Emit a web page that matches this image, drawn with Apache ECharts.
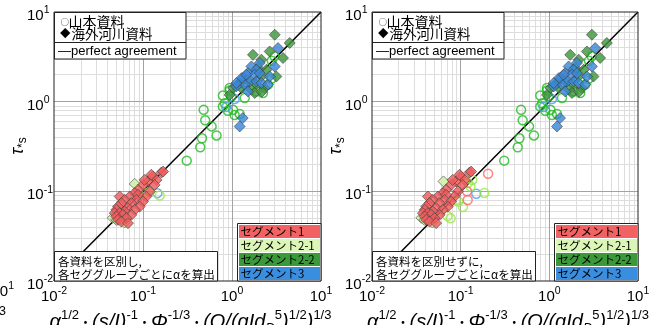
<!DOCTYPE html>
<html>
<head>
<meta charset="utf-8">
<script src="https://cdn.jsdelivr.net/npm/echarts@6/dist/echarts.min.js"></script>
<style>
html,body{margin:0;padding:0;background:#fff}
#chart{width:659px;height:325px}
</style>
</head>
<body>
<div id="chart"></div>
<script>
// Log–log comparison of τ*s against the composite parameter, two panels
const AXIS_MIN = 0.01;
const AXIS_MAX = 10;
const majorLines = [0.1, 1];
const minorLines = [0.02,0.03,0.04,0.05,0.06,0.07,0.08,0.09,
                    0.2,0.3,0.4,0.5,0.6,0.7,0.8,0.9,
                    2,3,4,5,6,7,8,9];
const agreementLine = [[0.01, 0.01], [10, 10]];

// 海外河川資料 (diamonds)
const overseasSeg1Left = [[0.161,0.162],[0.129,0.146],[0.142,0.134],[0.114,0.129],[0.100,0.118],[0.135,0.118],
  [0.0879,0.104],[0.119,0.0995],[0.0807,0.0955],[0.0547,0.0875],[0.109,0.0875],[0.0710,0.0875],[0.0879,0.0914],
  [0.0622,0.0804],[0.0843,0.0804],[0.100,0.0769],[0.0571,0.0738],[0.0741,0.0738],[0.0918,0.0676],[0.0524,0.0676],
  [0.0678,0.0649],[0.0807,0.0622],[0.0502,0.0622],[0.0622,0.0596],[0.0741,0.0547],[0.0481,0.0571],[0.0547,0.0571],
  [0.0596,0.0547],[0.0650,0.0502],[0.0502,0.0524],[0.0524,0.0481],[0.0571,0.0460],[0.0678,0.0442],[0.168,0.166],
  [0.124,0.153],[0.104,0.134]];
const overseasSeg1Right = [[0.126,0.162],[0.101,0.146],[0.111,0.134],[0.089,0.129],[0.078,0.118],[0.105,0.118],
  [0.0686,0.104],[0.093,0.0995],[0.063,0.0955],[0.0427,0.0875],[0.085,0.0875],[0.0554,0.0875],[0.0686,0.0914],
  [0.0485,0.0804],[0.0658,0.0804],[0.078,0.0769],[0.0445,0.0738],[0.0578,0.0738],[0.0716,0.0676],[0.0409,0.0676],
  [0.0529,0.0649],[0.063,0.0622],[0.0392,0.0622],[0.0485,0.0596],[0.0578,0.0547],[0.0375,0.0571],[0.0427,0.0571],
  [0.0465,0.0547],[0.0507,0.0502],[0.0392,0.0524],[0.0409,0.0481],[0.0445,0.0460],[0.0529,0.0442],[0.131,0.166],
  [0.097,0.153],[0.081,0.134]];
const overseasSeg21Left = [[0.0807,0.121],[0.0457,0.0506],[0.0502,0.0481],[0.062,0.045]];
const overseasSeg21Right = [[0.064,0.129],[0.036,0.0506],[0.039,0.0481],[0.048,0.045]];
const overseasSeg22 = [[3.02,5.58],[4.45,4.51],[2.65,3.63],[1.72,3.33],[3.74,3.07],[2.14,2.94],[2.44,2.27],
  [2.14,1.91],[1.22,1.61],[1.88,1.55],[1.03,1.42],[1.17,1.55],[1.28,1.42],[1.65,1.36],[2.33,1.42],[3.15,1.91],
  [1.80,1.25],[0.94,1.19],[1.46,1.75],[1.95,2.39],[2.16,1.29]];
const overseasSeg3 = [[3.29,3.96],[3.02,2.47],[2.05,2.70],[1.65,2.47],[1.88,2.27],[1.51,2.08],[1.80,2.00],
  [1.33,1.83],[1.58,1.68],[1.39,1.55],[1.12,1.48],[1.28,1.83],[1.12,1.61],[1.88,1.68],[2.14,1.61],[2.54,1.55],
  [2.65,1.91],[1.51,1.30],[2.05,2.08],[1.45,2.00],[1.32,0.656],[1.22,0.529]];

// 山本資料 (circles)
const yamamotoSeg1Left = [];
const yamamotoSeg1Right = [[0.204,0.157],[0.118,0.100],[0.120,0.080]];
const yamamotoSeg21Left = [[0.109,0.0955],[0.119,0.099],[0.154,0.0898]];
const yamamotoSeg21Right = [[0.135,0.134],[0.129,0.113],[0.185,0.096],[0.088,0.080],[0.106,0.067],
  [0.071,0.053],[0.077,0.050],[0.094,0.077],[0.121,0.124]];
const yamamotoSeg22 = [[0.79,1.17],[0.94,1.33],[0.98,1.14],[1.39,1.10],[0.79,0.88],[0.90,0.79],[1.03,0.81],
  [1.07,0.71],[1.22,0.73],[0.48,0.81],[0.50,0.62],[0.59,0.53],[0.67,0.42],[0.46,0.39],[0.44,0.31],[0.31,0.22],
  [3.0,3.2],[2.8,2.86],[1.71,1.48],[2.77,1.80],[2.23,1.25],[1.88,1.30],[0.83,0.96],[2.54,1.55],[0.94,1.42]];
const yamamotoSeg3Left = [[0.86,0.87],[1.07,1.07],[0.145,0.0955]];
const yamamotoSeg3Right = [[0.86,0.87],[1.07,1.07],[0.150,0.094]];

const segmentNames = ['セグメント1', 'セグメント2-1', 'セグメント2-2', 'セグメント3'];
const segmentColors = ['#f26262', '#dcf6b8', '#3a9a3a', '#3a8ee0'];
const circleColors = ['#ff6868', '#9be84a', '#22bb22', '#4a9cf0'];
const diamondColors = ['#ee5c5c', '#c9f09e', '#3f963f', '#3a88d8'];

const LATIN = '"Liberation Sans", Arial, sans-serif';
const CJK = '"Noto Sans CJK JP", sans-serif';

const chart = echarts.init(document.getElementById('chart'), null, {renderer: 'canvas'});

const tickRich = {
  b: {fontSize: 15, fontFamily: LATIN, color: '#000', lineHeight: 22},
  s: {fontSize: 10.5, fontFamily: LATIN, color: '#000', verticalAlign: 'top', lineHeight: 10}
};
const tickFormatter = v => '{b|10}{s|' + Math.round(Math.log10(v)) + '}';

const grids = [
  {left: 54, top: 12, width: 267, height: 269},
  {left: 372, top: 12, width: 266, height: 269}
];

function xAxisFor(i) {
  return {
    type: 'log', logBase: 10, gridIndex: i, min: AXIS_MIN, max: AXIS_MAX,
    axisLine: {show: false}, axisTick: {show: false}, splitLine: {show: false},
    axisLabel: {formatter: tickFormatter, rich: tickRich, margin: 5, showMinLabel: true, showMaxLabel: true}
  };
}
function yAxisFor(i) {
  return {
    type: 'log', logBase: 10, gridIndex: i, min: AXIS_MIN, max: AXIS_MAX,
    axisLine: {show: false}, axisTick: {show: false}, splitLine: {show: false},
    axisLabel: {formatter: tickFormatter, rich: tickRich, margin: 27, align: 'left',
      padding: [8, 0, 0, 0], showMinLabel: true, showMaxLabel: true}
  };
}

function gridLineSeries(i) {
  const mk = (vals, color, z) => ({
    type: 'line', xAxisIndex: i, yAxisIndex: i, data: [], silent: true, z: z,
    markLine: {
      silent: true, symbol: ['none', 'none'], z: z, animation: false,
      label: {show: false}, emphasis: {disabled: true},
      lineStyle: {color: color, width: 1, type: 'solid'},
      data: vals.map(v => ({xAxis: v})).concat(vals.map(v => ({yAxis: v})))
    }
  });
  return [mk(minorLines, '#dddddd', 1), mk(majorLines, '#a3a3a3', 2)];
}

function circleSeries(i, data, seg) {
  return {
    type: 'scatter', xAxisIndex: i, yAxisIndex: i, data: data, z: 4,
    symbol: 'circle', symbolSize: 9,
    itemStyle: {color: 'rgba(255,255,255,0)', borderColor: circleColors[seg], borderWidth: 1.5}
  };
}
function diamondSeries(i, data, seg) {
  return {
    type: 'scatter', xAxisIndex: i, yAxisIndex: i, data: data, z: 5,
    symbol: 'diamond', symbolSize: 11,
    itemStyle: {color: diamondColors[seg], opacity: 0.82, borderColor: '#3a3a3a', borderWidth: 0.7}
  };
}
function agreementSeries(i) {
  return {
    type: 'line', xAxisIndex: i, yAxisIndex: i, data: agreementLine, z: 3,
    symbol: 'none', silent: true, lineStyle: {color: '#000', width: 1.5}
  };
}

const panels = [
  {c1: yamamotoSeg1Left, c21: yamamotoSeg21Left, c3: yamamotoSeg3Left, d1: overseasSeg1Left, d21: overseasSeg21Left,
   note: ['各資料を区別し,', '各セググループごとにαを算出']},
  {c1: yamamotoSeg1Right, c21: yamamotoSeg21Right, c3: yamamotoSeg3Right, d1: overseasSeg1Right, d21: overseasSeg21Right,
   note: ['各資料を区別せずに,', '各セググループごとにαを算出']}
];

const series = [];
panels.forEach((p, i) => {
  series.push(...gridLineSeries(i));
  series.push(agreementSeries(i));
  series.push(circleSeries(i, yamamotoSeg22, 2));
  series.push(circleSeries(i, p.c3, 3));
  series.push(circleSeries(i, p.c21, 1));
  series.push(circleSeries(i, p.c1, 0));
  series.push(diamondSeries(i, p.d21, 1));
  series.push(diamondSeries(i, overseasSeg22, 2));
  series.push(diamondSeries(i, overseasSeg3, 3));
  series.push(diamondSeries(i, p.d1, 0));
});

const xTitleRich = {
  m: {fontSize: 20, fontStyle: 'italic', fontFamily: LATIN, color: '#000', lineHeight: 26},
  u: {fontSize: 13, fontFamily: LATIN, color: '#000', verticalAlign: 'top', lineHeight: 14},
  d: {fontSize: 13, fontStyle: 'italic', fontFamily: LATIN, color: '#000', verticalAlign: 'bottom', lineHeight: 14},
  p: {fontSize: 13, fontFamily: CJK, color: '#000', lineHeight: 26}
};
const xTitleText = '{m|α}{u|1/2}{p|・}{m|(s/I)}{u|-1}{p|・}{m|Φ}{u|-1/3}{p|・}{m|(Q/(gId}{d|D}{u|5}{m|)}{u|1/2}{m|)}{u|1/3}';
const yTitleRich = {
  t: {fontSize: 18, fontStyle: 'italic', fontFamily: LATIN, color: '#000', lineHeight: 22},
  s: {fontSize: 12, fontFamily: LATIN, color: '#000', verticalAlign: 'bottom', lineHeight: 12}
};

function panelGraphics(i) {
  const g = grids[i];
  const ox = g.left;
  const right = g.left + g.width;
  const bottom = g.top + g.height;
  const els = [];
  const box = (x, y, w, h) => ({type: 'rect', z: 100, silent: true,
    shape: {x: x, y: y, width: w, height: h}, style: {fill: '#fff', stroke: '#222', lineWidth: 1}});
  const txt = (x, y, text, size, family) => ({type: 'text', z: 102, silent: true, x: x, y: y,
    style: {text: text, fill: '#000', font: size + 'px ' + family, verticalAlign: 'middle', align: 'left'}});

  // symbol legend
  els.push(box(ox + 0.5, g.top + 0.5, 131.5, 46.5));
  els.push({type: 'line', z: 101, silent: true, shape: {x1: ox, y1: 42.5, x2: ox + 132, y2: 42.5},
    style: {stroke: '#222', lineWidth: 1}});
  els.push(txt(ox + 6.5, 22, '○', 8.5, CJK));
  els.push(txt(ox + 14.5, 22, '山本資料', 14, CJK));
  els.push(txt(ox + 6, 33.5, '◆', 10.5, CJK));
  els.push(txt(ox + 17.5, 33.5, '海外河川資料', 13.5, CJK));
  els.push(txt(ox + 4, 51, '—perfect agreement', 13, LATIN));

  // method note
  els.push(box(ox + 0.5, 251.5, 163, 29.5));
  els.push(txt(ox + 4, 262, panels[i].note[0], 11.5, CJK));
  els.push(txt(ox + 4, 274.5, panels[i].note[1], 11.5, CJK));

  // segment legend
  const lx = right - 84;
  els.push(box(lx + 0.5, 223.5, 83.5, bottom - 223.5));
  segmentNames.forEach((name, k) => {
    const ry = 225 + k * 14;
    els.push({type: 'rect', z: 101, silent: true, shape: {x: lx + 2, y: ry, width: 81, height: 13},
      style: {fill: segmentColors[k]}});
    els.push(txt(lx + 3.5, ry + 6.5, name, 11.5, CJK));
  });

  // axis titles
  els.push({type: 'text', z: 102, silent: true, x: ox - 36, y: 146, rotation: Math.PI / 2,
    style: {text: '{t|τ}{s|*s}', rich: yTitleRich, align: 'center', verticalAlign: 'middle'}});
  els.push({type: 'text', z: 102, silent: true, x: ox + g.width / 2 + 3, y: 322,
    style: {text: xTitleText, rich: xTitleRich, align: 'center', verticalAlign: 'middle'}});
  return els;
}

const graphics = panelGraphics(0).concat(panelGraphics(1));
// neighbouring panel's tick label and axis-title tail, clipped by the left edge
graphics.push({type: 'text', z: 102, silent: true, x: -8.5, y: 292,
  style: {text: '{b|10}{s|1}', rich: tickRich, align: 'left', verticalAlign: 'middle'}});
graphics.push({type: 'text', z: 102, silent: true, x: 6, y: 311,
  style: {text: '1/3', font: '13px ' + LATIN, fill: '#000', align: 'right', verticalAlign: 'middle'}});

chart.setOption({
  animation: false,
  backgroundColor: '#fff',
  textStyle: {fontFamily: LATIN},
  grid: grids.map(g => Object.assign({show: true, z: 10, backgroundColor: 'transparent',
    borderColor: '#222', borderWidth: 1, containLabel: false}, g)),
  xAxis: [xAxisFor(0), xAxisFor(1)],
  yAxis: [yAxisFor(0), yAxisFor(1)],
  series: series,
  graphic: graphics
});
</script>
</body>
</html>
